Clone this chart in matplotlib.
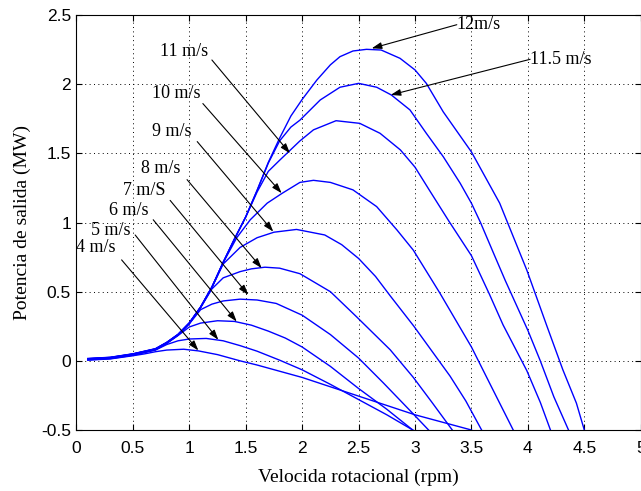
import matplotlib
matplotlib.use("Agg")
import matplotlib.pyplot as plt

# Curvas de potencia del aerogenerador para cada velocidad de viento
rpm_4 = [0.1, 0.3, 0.5, 0.6, 0.7, 0.8, 0.95, 1.08, 1.25, 1.45, 1.6, 2.0, 2.5, 3.0, 3.5]
pot_4 = [0.005, 0.014, 0.037, 0.05, 0.066, 0.078, 0.084, 0.072, 0.045, 0.0, -0.03, -0.12, -0.255, -0.39, -0.5]

rpm_5 = [0.1, 0.3, 0.5, 0.7, 0.8, 0.9, 1.0, 1.15, 1.3, 1.45, 1.6, 1.8, 2.0, 2.25, 2.5, 2.75, 2.98]
pot_5 = [0.007, 0.016, 0.04, 0.078, 0.118, 0.145, 0.158, 0.162, 0.145, 0.11, 0.07, 0.005, -0.065, -0.17, -0.28, -0.39, -0.5]

rpm_6 = [0.1, 0.3, 0.5, 0.7, 0.8, 0.9, 1.0, 1.1, 1.25, 1.4, 1.55, 1.7, 1.85, 2.0, 2.25, 2.5, 2.75, 2.98]
pot_6 = [0.009, 0.018, 0.043, 0.08, 0.126, 0.183, 0.245, 0.273, 0.29, 0.285, 0.258, 0.215, 0.165, 0.1, -0.04, -0.2, -0.35, -0.5]

rpm_7 = [0.1, 0.3, 0.5, 0.7, 0.8, 0.9, 1.0, 1.1, 1.2, 1.3, 1.45, 1.6, 1.77, 2.0, 2.25, 2.5, 2.72, 2.98, 3.12]
pot_7 = [0.011, 0.02, 0.045, 0.082, 0.128, 0.186, 0.268, 0.37, 0.41, 0.433, 0.446, 0.44, 0.415, 0.33, 0.19, 0.02, -0.16, -0.38, -0.5]

rpm_8 = [0.1, 0.3, 0.5, 0.7, 0.8, 0.9, 1.0, 1.1, 1.2, 1.3, 1.45, 1.55, 1.67, 1.8, 1.98, 2.25, 2.48, 2.78, 2.985, 3.15, 3.33]
pot_8 = [0.012, 0.021, 0.046, 0.083, 0.129, 0.187, 0.27, 0.385, 0.52, 0.60, 0.645, 0.665, 0.677, 0.67, 0.63, 0.50, 0.32, 0.08, -0.12, -0.3, -0.5]

rpm_9 = [0.1, 0.3, 0.5, 0.7, 0.8, 0.9, 1.0, 1.1, 1.2, 1.3, 1.45, 1.6, 1.75, 1.95, 2.2, 2.35, 2.5, 2.65, 2.78, 2.99, 3.15, 3.31, 3.45, 3.59]
pot_9 = [0.013, 0.022, 0.047, 0.084, 0.13, 0.188, 0.271, 0.386, 0.53, 0.70, 0.82, 0.89, 0.93, 0.95, 0.91, 0.84, 0.74, 0.61, 0.47, 0.25, 0.07, -0.11, -0.29, -0.5]

rpm_10 = [0.1, 0.3, 0.5, 0.7, 0.8, 0.9, 1.0, 1.1, 1.2, 1.3, 1.42, 1.54, 1.69, 1.82, 1.98, 2.1, 2.25, 2.45, 2.66, 2.84, 2.985, 3.22, 3.5, 3.66, 3.87]
pot_10 = [0.014, 0.023, 0.048, 0.085, 0.131, 0.189, 0.272, 0.387, 0.531, 0.71, 0.89, 1.02, 1.14, 1.21, 1.29, 1.305, 1.29, 1.236, 1.115, 0.946, 0.80, 0.49, 0.10, -0.16, -0.5]

rpm_11 = [0.1, 0.3, 0.5, 0.7, 0.8, 0.9, 1.0, 1.1, 1.2, 1.3, 1.4, 1.5, 1.6, 1.7, 1.8, 1.89, 1.98, 2.1, 2.3, 2.51, 2.69, 2.87, 3.0, 3.13, 3.3, 3.5, 3.66, 3.78, 3.99, 4.11, 4.2]
pot_11 = [0.015, 0.024, 0.049, 0.086, 0.132, 0.19, 0.273, 0.388, 0.532, 0.711, 0.88, 1.04, 1.22, 1.37, 1.45, 1.52, 1.59, 1.67, 1.736, 1.717, 1.645, 1.525, 1.40, 1.23, 1.01, 0.76, 0.48, 0.26, -0.07, -0.3, -0.5]

rpm_115 = [0.1, 0.3, 0.5, 0.7, 0.8, 0.9, 1.0, 1.1, 1.2, 1.3, 1.4, 1.5, 1.6, 1.7, 1.8, 1.9, 1.98, 2.16, 2.335, 2.5, 2.66, 2.79, 2.955, 3.1, 3.25, 3.4, 3.5, 3.58, 3.7, 3.8, 3.9, 4.0, 4.11, 4.23, 4.36]
pot_115 = [0.016, 0.025, 0.05, 0.087, 0.133, 0.191, 0.274, 0.389, 0.533, 0.712, 0.881, 1.041, 1.23, 1.43, 1.59, 1.69, 1.74, 1.886, 1.978, 2.006, 1.978, 1.922, 1.814, 1.645, 1.476, 1.284, 1.139, 1.0, 0.77, 0.58, 0.40, 0.22, 0.0, -0.26, -0.5]

rpm_12 = [0.1, 0.3, 0.5, 0.7, 0.8, 0.9, 1.0, 1.1, 1.2, 1.3, 1.4, 1.5, 1.6, 1.7, 1.8, 1.9, 2.0, 2.13, 2.25, 2.335, 2.45, 2.57, 2.7, 2.867, 3.0, 3.1, 3.25, 3.5, 3.75, 3.99, 4.17, 4.31, 4.43, 4.5]
pot_12 = [0.017, 0.026, 0.051, 0.088, 0.134, 0.192, 0.275, 0.39, 0.534, 0.713, 0.882, 1.042, 1.232, 1.435, 1.61, 1.77, 1.89, 2.03, 2.14, 2.199, 2.24, 2.252, 2.247, 2.187, 2.103, 2.006, 1.80, 1.51, 1.14, 0.657, 0.248, -0.065, -0.306, -0.5]

curvas = [
    (rpm_4, pot_4), (rpm_5, pot_5), (rpm_6, pot_6), (rpm_7, pot_7),
    (rpm_8, pot_8), (rpm_9, pot_9), (rpm_10, pot_10), (rpm_11, pot_11),
    (rpm_115, pot_115), (rpm_12, pot_12),
]

# Etiquetas: texto, posicion del texto, inicio y punta de la flecha
etiquetas = ["4 m/s", "5 m/s", "6 m/s", "7 m/S", "8 m/s", "9 m/s",
             "10 m/s", "11 m/s", "11.5 m/s", "12m/s"]
pos_texto = [(0.0, 0.82), (0.13, 0.94), (0.29, 1.09), (0.41, 1.23), (0.57, 1.39),
             (0.67, 1.66), (0.67, 1.93), (0.74, 2.235), (4.02, 2.18), (3.37, 2.43)]
inicio_flecha = [(0.40, 0.73), (0.52, 0.91), (0.68, 1.02), (0.83, 1.16), (0.98, 1.31),
                 (1.07, 1.585), (1.12, 1.86), (1.20, 2.175), (4.02, 2.18), (3.37, 2.43)]
punta_flecha = [(1.08, 0.075), (1.257, 0.152), (1.42, 0.284), (1.522, 0.477), (1.641, 0.67),
                (1.744, 0.934), (1.818, 1.212), (1.892, 1.50), (2.784, 1.922), (2.616, 2.259)]

serif = "Liberation Serif"
sans = "Liberation Sans"

fig = plt.figure(figsize=(6.41, 4.91), dpi=100)
ax = fig.add_axes([0.1193, 0.1242, 0.8803, 0.8452])

for x, y in curvas:
    ax.plot(x, y, color="#0000ff", lw=1.0)

for txt, pt, a0, a1 in zip(etiquetas, pos_texto, inicio_flecha, punta_flecha):
    ax.text(pt[0], pt[1], txt, fontsize=13, family=serif, ha="left", va="center")
    ax.annotate("", xy=a1, xytext=a0,
                arrowprops=dict(arrowstyle="-|>,head_length=0.6,head_width=0.2",
                                color="k", lw=0.8, shrinkA=0, shrinkB=0))

ax.set_xlim(0, 5)
ax.set_ylim(-0.5, 2.5)
ax.set_xticks([i * 0.5 for i in range(11)])
ax.set_yticks([-0.5 + i * 0.5 for i in range(7)])
ax.set_xticklabels(["0", "0.5", "1", "1.5", "2", "2.5", "3", "3.5", "4", "4.5", "5"])
ax.set_yticklabels(["-0.5", "0", "0.5", "1", "1.5", "2", "2.5"])
for lab in ax.get_xticklabels() + ax.get_yticklabels():
    lab.set_family(sans)
    lab.set_fontsize(12.5)

ax.grid(True, color="k", linestyle=(0, (1, 3.5)), lw=0.7)
ax.tick_params(direction="in", length=4, width=0.8, top=True, right=True)
ax.tick_params(axis="x", pad=8)
ax.tick_params(axis="y", pad=4)
for s in ax.spines.values():
    s.set_linewidth(0.8)

ax.set_xlabel("Velocida rotacional (rpm)", family=serif, fontsize=14, labelpad=9)
ax.set_ylabel("Potencia de salida (MW)", family=serif, fontsize=14, labelpad=7)

fig.savefig("out.png", dpi=100)
